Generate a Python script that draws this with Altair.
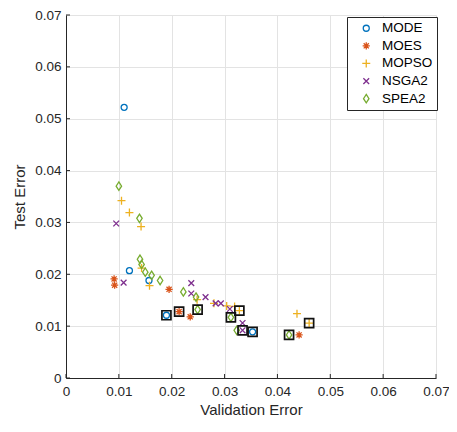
import altair as alt
import pandas as pd

algs = ["MODE", "MOES", "MOPSO", "NSGA2", "SPEA2"]
colors = ["#0072BD", "#D95319", "#EDB120", "#7E2F8E", "#77AC30"]

mode_x = [0.0110, 0.0120, 0.0157, 0.0190, 0.0353]
mode_y = [0.0522, 0.0207, 0.0188, 0.0121, 0.0089]
moes_x = [0.0091, 0.0092, 0.0195, 0.0214, 0.0235, 0.0441]
moes_y = [0.0191, 0.0179, 0.0171, 0.0128, 0.0118, 0.0083]
mopso_x = [0.0105, 0.0120, 0.0142, 0.0143, 0.0158, 0.0248, 0.0280, 0.0304, 0.0319, 0.0328, 0.0437, 0.0460]
mopso_y = [0.0342, 0.0319, 0.0292, 0.0212, 0.0178, 0.0151, 0.0144, 0.0139, 0.0138, 0.0130, 0.0124, 0.0106]
nsga2_x = [0.0095, 0.0109, 0.0237, 0.0237, 0.0264, 0.0283, 0.0293, 0.0310, 0.0334, 0.0334]
nsga2_y = [0.0298, 0.0184, 0.0183, 0.0163, 0.0156, 0.0144, 0.0144, 0.0133, 0.0106, 0.0092]
spea2_x = [0.0100, 0.0139, 0.0140, 0.0143, 0.0150, 0.0162, 0.0178, 0.0222, 0.0246, 0.0249, 0.0312, 0.0323, 0.0422]
spea2_y = [0.0370, 0.0308, 0.0229, 0.0219, 0.0204, 0.0198, 0.0188, 0.0166, 0.0156, 0.0132, 0.0117, 0.0092, 0.0083]
# selected (boxed) solutions
sel_x = [0.0190, 0.0214, 0.0249, 0.0312, 0.0328, 0.0334, 0.0353, 0.0422, 0.0460]
sel_y = [0.0121, 0.0128, 0.0132, 0.0117, 0.0130, 0.0092, 0.0089, 0.0083, 0.0106]

ticks = [0, 0.01, 0.02, 0.03, 0.04, 0.05, 0.06, 0.07]

shapes = [
    "M-0.75,0A0.75,0.75 0 1,0 0.75,0A0.75,0.75 0 1,0 -0.75,0Z",
    "M-0.9,0L0.9,0M0,-0.9L0,0.9M-0.64,-0.64L0.64,0.64M-0.64,0.64L0.64,-0.64",
    "M-1,0L1,0M0,-1L0,1",
    "M-0.72,-0.72L0.72,0.72M-0.72,0.72L0.72,-0.72",
    "M0,-1.05L0.68,0L0,1.05L-0.68,0Z",
]

rows = []
for name, xs_, ys_ in zip(algs, [mode_x, moes_x, mopso_x, nsga2_x, spea2_x],
                          [mode_y, moes_y, mopso_y, nsga2_y, spea2_y]):
    for a, b in zip(xs_, ys_):
        rows.append({"alg": name, "val": a, "test": b})
df = pd.DataFrame(rows)
sel = pd.DataFrame({"val": sel_x, "test": sel_y})
tdf = pd.DataFrame({"val": ticks, "test": ticks})

FONT = "Liberation Sans"
TXT = "#262626"
W = 370
H = 363
xs = alt.Scale(domain=[0, 0.07], nice=False, zero=False)
ys = alt.Scale(domain=[0, 0.07], nice=False, zero=False)

common_axis = dict(values=ticks, format="~g", grid=True, gridColor="#e3e3e3", gridWidth=1,
                   domainColor=TXT, domainWidth=1, ticks=False, labelFont=FONT,
                   labelFontSize=13.5, labelColor=TXT, titleFont=FONT, titleFontSize=15,
                   titleFontWeight="normal", titleColor=TXT, labelFlush=False,
                   labelOverlap=False)
x_axis = alt.Axis(title="Validation Error", labelPadding=6, titlePadding=5, **common_axis)
y_axis = alt.Axis(title="Test Error", labelPadding=5, titlePadding=7, **common_axis)

leg = alt.Legend(title=None, orient="none", legendX=281, legendY=2, strokeColor=TXT,
                 fillColor="white", padding=4.5, rowPadding=2.6, labelFont=FONT,
                 labelFontSize=13.5, labelColor="black", symbolSize=64,
                 symbolStrokeWidth=1.3, symbolOffset=8, labelOffset=9,
                 symbolFillColor="transparent")

points = alt.Chart(df).mark_point(filled=False, size=64, strokeWidth=1.3, opacity=1).encode(
    x=alt.X("val:Q", scale=xs, axis=x_axis),
    y=alt.Y("test:Q", scale=ys, axis=y_axis),
    color=alt.Color("alg:N", scale=alt.Scale(domain=algs, range=colors), legend=leg),
    shape=alt.Shape("alg:N", scale=alt.Scale(domain=algs, range=shapes), legend=leg),
)

boxes = alt.Chart(sel).mark_point(shape="square", filled=False, size=81, strokeWidth=1.7,
                                  color="#111111", opacity=1).encode(
    x=alt.X("val:Q", scale=xs, axis=x_axis),
    y=alt.Y("test:Q", scale=ys, axis=y_axis),
)

xticks = alt.Chart(tdf).mark_rule(color=TXT, strokeWidth=1).encode(
    x=alt.X("val:Q", scale=xs, axis=x_axis), y=alt.value(H), y2=alt.value(H - 4))
yticks = alt.Chart(tdf).mark_rule(color=TXT, strokeWidth=1).encode(
    y=alt.Y("test:Q", scale=ys, axis=y_axis), x=alt.value(0), x2=alt.value(4))

chart = alt.layer(points, boxes, xticks, yticks).properties(
    width=W, height=H,
    padding={"left": 58, "top": 7, "right": 13, "bottom": 40},
    autosize=alt.AutoSizeParams(type="none"),
).configure_view(stroke=None)

chart.save("out.html", embed_options={"renderer": "svg", "actions": False})
